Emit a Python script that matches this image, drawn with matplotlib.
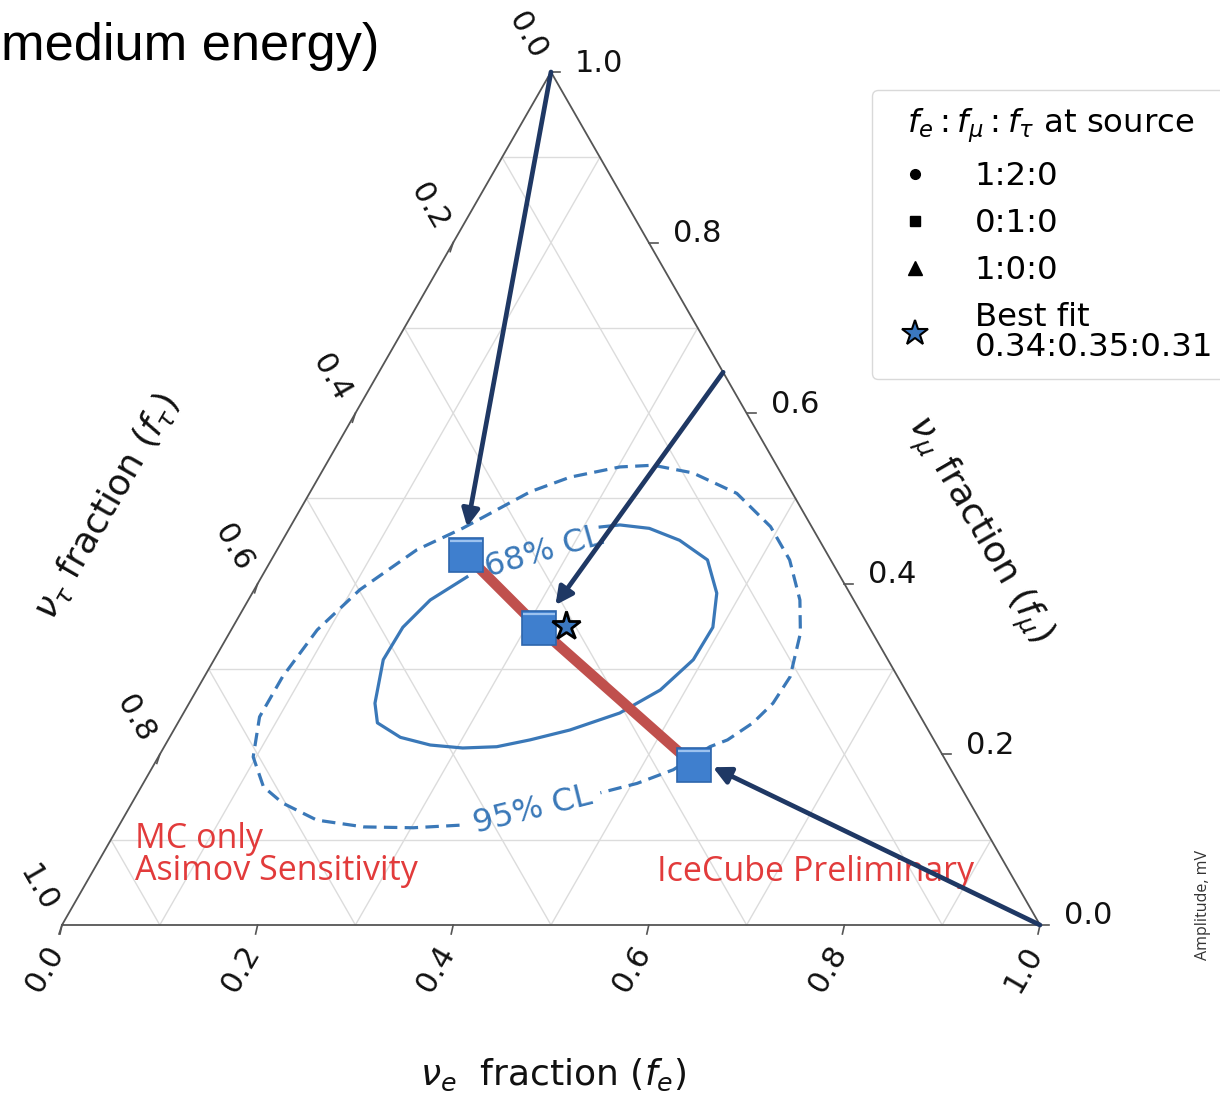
import numpy as np
import matplotlib
matplotlib.use('Agg')
import matplotlib.pyplot as plt
from matplotlib.lines import Line2D

# ternary data, all as (f_e, f_mu) pairs, f_tau = 1 - f_e - f_mu
tick_values = [0.0, 0.2, 0.4, 0.6, 0.8, 1.0]
grid_values = [0.1, 0.3, 0.5, 0.7, 0.9]

# 95% CL contour (dashed), starts right after the label gap
cl95_fe = [0.348, 0.302, 0.251, 0.199, 0.154, 0.125, 0.097, 0.080, 0.080, 0.088,
           0.108, 0.143, 0.177, 0.225, 0.257, 0.302, 0.335, 0.380, 0.437, 0.491,
           0.530, 0.564, 0.584, 0.599, 0.597, 0.588, 0.572, 0.558, 0.534, 0.505, 0.473]
cl95_fmu = [0.117, 0.114, 0.115, 0.123, 0.143, 0.162, 0.197, 0.244, 0.291, 0.346,
            0.393, 0.440, 0.465, 0.508, 0.525, 0.537, 0.539, 0.530, 0.506, 0.467,
            0.428, 0.381, 0.342, 0.291, 0.260, 0.237, 0.217, 0.209, 0.182, 0.166, 0.155]

# 68% CL contour (solid)
cl68_fe = [0.210, 0.186, 0.174, 0.173, 0.190, 0.204, 0.236, 0.271, 0.306, 0.340, 0.370,
           0.405, 0.446, 0.474, 0.490, 0.491, 0.475, 0.446, 0.406, 0.368, 0.336, 0.317]
cl68_fmu = [0.408, 0.381, 0.349, 0.311, 0.260, 0.237, 0.220, 0.211, 0.2075, 0.209, 0.217,
            0.2286, 0.2485, 0.2755, 0.311, 0.349, 0.389, 0.428, 0.451, 0.465, 0.469, 0.4666]

# expected flavour at earth for the three sources (0:1:0, 1:2:0, 1:0:0)
earth_fe = [0.196, 0.314, 0.552]
earth_fmu = [0.434, 0.348, 0.1876]

# arrows: from source point on the triangle to the earth point
arrow_start_fe = [0.0, 0.352, 1.0]
arrow_start_fmu = [1.0, 0.648, 0.0]
arrow_end_fe = [0.181, 0.317, 0.573]
arrow_end_fmu = [0.4666, 0.375, 0.185]

best_fit = (0.34, 0.35, 0.31)

legend_labels = ['1:2:0', '0:1:0', '1:0:0', 'Best fit\n0.34:0.35:0.31']

W, H = 978.0, 853.0   # triangle size in pixels


def tern(fe, fmu):
    fe = np.asarray(fe, dtype=float)
    fmu = np.asarray(fmu, dtype=float)
    return fe + fmu / 2, fmu


fig = plt.figure(figsize=(12.2, 10.95), dpi=100)
ax = fig.add_axes([0, 0, 1, 1])
ax.set_xlim(-62 / W, 1158 / W)
ax.set_ylim(-170 / H, 925 / H)
ax.axis('off')

# grid
for g in grid_values:
    for a, b in [((0, g), (1 - g, g)), ((g, 0), (g, 1 - g)), ((1 - g, 0), (0, 1 - g))]:
        x, y = tern([a[0], b[0]], [a[1], b[1]])
        ax.plot(x, y, color='#dcdcdc', lw=1.0, zorder=1)

# triangle border
x, y = tern([0, 1, 0, 0], [0, 0, 1, 0])
ax.plot(x, y, color='#555555', lw=1.3, zorder=2)

tick_font = dict(fontsize=22, family='DejaVu Sans', color='#111111')
for t in tick_values:
    # bottom axis, f_e
    x, y = tern(t, 0)
    ax.plot([x, x - 2 / W], [y, y - 9 / H], color='#555555', lw=1.2)
    ax.text(x - 17 / W, y - 44 / H, f'{t:.1f}', rotation=60, ha='center', va='center', **tick_font)
    # right axis, f_mu
    x, y = tern(1 - t, t)
    ax.plot([x, x + 9 / W], [y, y], color='#555555', lw=1.2)
    ax.text(x + 24 / W, y + 9 / H, f'{t:.1f}', ha='left', va='center', **tick_font)
    # left axis, f_tau
    x, y = tern(0, 1 - t)
    ax.plot([x, x - 3 / W], [y, y - 9 / H], color='#555555', lw=1.2)
    ax.text(x - 24 / W, y + 36 / H, f'{t:.1f}', rotation=-60, ha='center', va='center', **tick_font)

# axis labels
lab_font = dict(fontsize=26, family='DejaVu Sans', color='#111111', ha='center', va='center')
ax.text(491 / W, -150 / H, r'$\nu_e$  fraction ($f_e$)', **lab_font)
ax.text(45 / W, 418 / H, r'$\nu_\tau$ fraction ($f_\tau$)', rotation=60, **lab_font)
ax.text(916 / W, 395 / H, r'$\nu_\mu$ fraction ($f_\mu$)', rotation=-60, **lab_font)

# contours
blue = '#3a78b8'
x, y = tern(cl95_fe, cl95_fmu)
ax.plot(x, y, color=blue, lw=2.3, ls=(0, (4.2, 2.3)), zorder=3)
x, y = tern(cl68_fe, cl68_fmu)
ax.plot(x, y, color=blue, lw=2.3, zorder=3)
ax.text(471 / W, 115 / H, '95% CL', rotation=14, color=blue, fontsize=23,
        ha='center', va='center', zorder=3)
ax.text(482 / W, 373 / H, '68% CL', rotation=16, color=blue, fontsize=23,
        ha='center', va='center', zorder=3)

# red line joining the earth points
x, y = tern(earth_fe, earth_fmu)
ax.plot(x, y, color='#c0504d', lw=7.5, solid_capstyle='butt', zorder=4)
ax.plot(x, y, ls='none', marker='s', markersize=25, markerfacecolor='#3f7fce',
        markeredgecolor='#2e66ad', markeredgewidth=1.2, zorder=6)
# light stripe near the top of each square
ax.plot(x, y + 14 / H, ls='none', marker='_', markersize=23, markeredgecolor='#9cc2ef',
        markeredgewidth=1.6, zorder=6.5)

# best fit star
x, y = tern(best_fit[0], best_fit[1])
ax.plot(x, y, marker='*', markersize=21, markerfacecolor='#3b78c0',
        markeredgecolor='black', markeredgewidth=2, zorder=7)

# arrows
for i in range(3):
    xs, ys = tern(arrow_start_fe[i], arrow_start_fmu[i])
    xe, ye = tern(arrow_end_fe[i], arrow_end_fmu[i])
    ax.annotate('', xy=(xe, ye), xytext=(xs, ys),
                arrowprops=dict(arrowstyle='-|>', color='#1f3864', lw=3.4,
                                mutation_scale=26, shrinkA=0, shrinkB=0),
                zorder=8)

# red notes
ax.text(73 / W, 70 / H, 'MC only\nAsimov Sensitivity', color='#e23b3b', fontsize=24.5,
        family='Open Sans', ha='left', va='center', linespacing=0.92)
ax.text(595 / W, 53 / H, 'IceCube Preliminary', color='#e23b3b', fontsize=24.5,
        family='Open Sans', ha='left', va='center')

# legend
handles = [
    Line2D([], [], ls='none', marker='o', color='black', markersize=7),
    Line2D([], [], ls='none', marker='s', color='black', markersize=7),
    Line2D([], [], ls='none', marker='^', color='black', markersize=10),
    Line2D([], [], ls='none', marker='*', markerfacecolor='#3b78c0',
           markeredgecolor='black', markeredgewidth=1.5, markersize=19),
]
leg = ax.legend(handles, legend_labels, title=r'$f_e : f_\mu : f_\tau$ at source',
                loc='upper left', bbox_to_anchor=(872 / 1220, 1 - 90 / 1095),
                bbox_transform=fig.transFigure, borderaxespad=0, fontsize=23.3,
                title_fontsize=23.3, handlelength=1.67, handletextpad=1.0,
                labelspacing=0.5, borderpad=0.5, frameon=True)
leg.get_frame().set_edgecolor('#d0d0d0')
leg.get_texts()[3].set_linespacing(0.95)

# cut-off slide text around the chart
fig.text(1 / 1220, 1 - 60 / 1095, 'medium energy)', fontsize=37.7,
         family='Liberation Sans', ha='left', va='baseline', color='black')
fig.text(1203 / 1220, 1 - 905 / 1095, 'Amplitude, mV', fontsize=11.5, rotation=90,
         family='Open Sans', color='#333333', ha='center', va='center')

fig.savefig('out.png', dpi=100)
